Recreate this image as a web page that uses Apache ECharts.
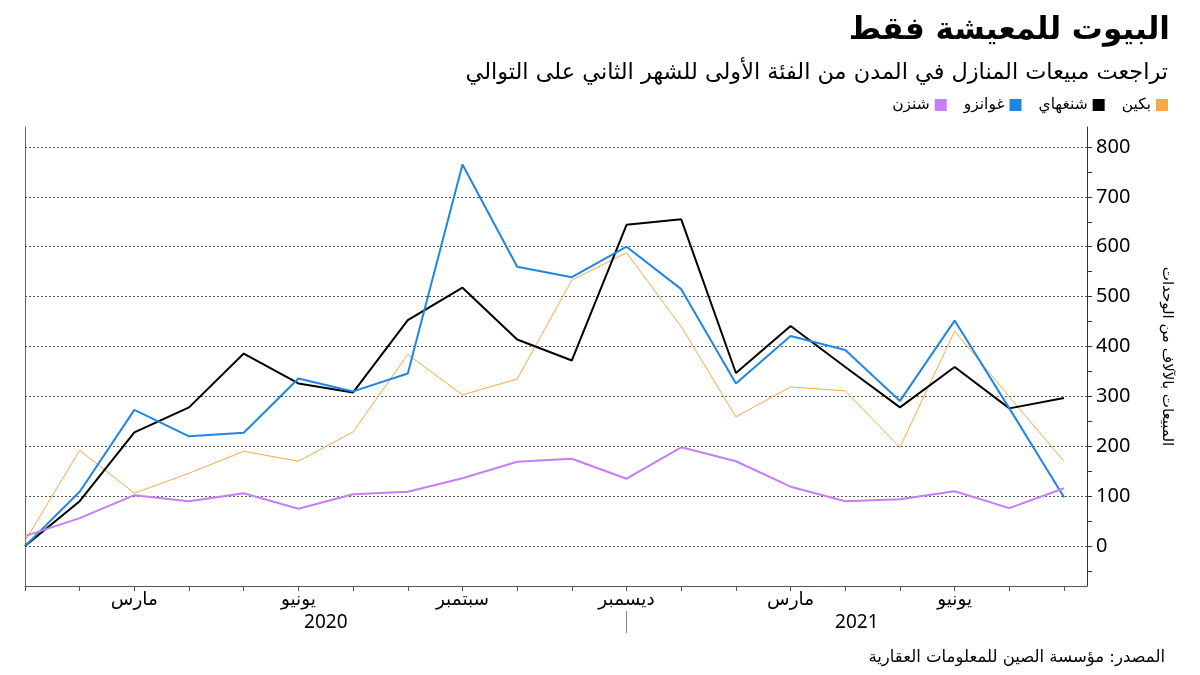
<!DOCTYPE html>
<html>
<head>
<meta charset="utf-8">
<script src="https://cdn.jsdelivr.net/npm/echarts@6/dist/echarts.min.js"></script>
<style>
html,body{margin:0;padding:0;background:#fff;}
#main{width:1200px;height:675px;}
</style>
</head>
<body>
<div id="main"></div>
<script>
// ---- data ----
const cities = ['بكين', 'شنغهاي', 'غوانزو', 'شنزن'];
const cityColors = ['#F7A945', '#000000', '#1F86E3', '#C77DF5'];
const cityWidths = [1, 2, 2, 2];
// monthly values Jan 2020 .. Aug 2021
const beijing   = [10, 192, 106, 146, 190, 170, 229, 384, 303, 335, 533, 588, 440, 259, 319, 311, 198, 431, 299, 170];
const shanghai  = [0, 90, 228, 278, 386, 326, 308, 453, 518, 414, 372, 644, 655, 347, 441, 359, 278, 359, 276, 297];
const guangzhou = [0, 109, 273, 220, 227, 336, 310, 346, 765, 560, 539, 600, 515, 326, 421, 393, 291, 452, 276, 98];
const shenzhen  = [20, 56, 102, 90, 106, 75, 104, 109, 136, 169, 175, 135, 198, 170, 119, 90, 94, 110, 76, 116];
const monthLabels = ['', '', 'مارس', '', '', 'يونيو', '', '', 'سبتمبر', '', '', 'ديسمبر',
                     '', '', 'مارس', '', '', 'يونيو', '', ''];
const years = ['2020', '2021'];
const yTicks = [0, 100, 200, 300, 400, 500, 600, 700, 800];
const yMinorTicks = [-50, 0, 50, 100, 150, 200, 250, 300, 350, 400, 450, 500, 550, 600, 650, 700, 750, 800];
const titleText = 'البيوت للمعيشة فقط';
const subtitleText = 'تراجعت مبيعات المنازل في المدن من الفئة الأولى للشهر الثاني على التوالي';
const sourceText = 'المصدر: مؤسسة الصين للمعلومات العقارية';
const yAxisName = 'المبيعات بالآلاف من الوحدات';

// ---- layout helpers ----
const xMin = 0, xMax = 19.42, yMin = -80, yMax = 840;
const yearBoundaries = [0, monthLabels.indexOf('ديسمبر'), xMax];
const yearCenters = [ (yearBoundaries[0] + yearBoundaries[1]) / 2, (yearBoundaries[1] + yearBoundaries[2]) / 2 ];
const FONT = "'DejaVu Sans', 'Noto Sans', sans-serif";
const NUMFONT = "'Noto Sans', 'DejaVu Sans', sans-serif";

const allSeries = [beijing, shanghai, guangzhou, shenzhen];
const monthIdx = beijing.map((_, i) => i);

const series = allSeries.map((vals, k) => {
  const s = {
    name: cities[k],
    type: 'line',
    xAxisIndex: 0,
    yAxisIndex: 0,
    data: vals.map((v, i) => [i, v]),
    symbol: 'none',
    lineStyle: { color: cityColors[k], width: cityWidths[k] },
    itemStyle: { color: cityColors[k] },
    z: 3 + k,
    animation: false
  };
  if (k === 0) {
    s.markLine = {
      silent: true,
      symbol: 'none',
      label: { show: false },
      lineStyle: { color: '#555', type: [2, 2], width: 1 },
      data: yTicks.map(v => ({ yAxis: v })),
      z: 1,
      animation: false
    };
  }
  return s;
});

const chart = echarts.init(document.getElementById('main'), null, { renderer: 'canvas' });
chart.setOption({
  backgroundColor: '#fff',
  animation: false,
  title: [
    {
      text: titleText,
      right: 25,
      top: 10,
      textStyle: { fontFamily: FONT, fontWeight: 'bold', fontSize: 31, color: '#000' }
    },
    {
      text: subtitleText,
      right: 27,
      top: 57,
      textStyle: { fontFamily: FONT, fontWeight: 'normal', fontSize: 22.4, color: '#000' }
    },
    {
      text: sourceText,
      right: 30,
      top: 644,
      textStyle: { fontFamily: FONT, fontWeight: 'normal', fontSize: 16.5, color: '#000' }
    }
  ],
  legend: {
    data: cities.slice().reverse(),
    right: 27,
    top: 92,
    align: 'right',
    itemWidth: 12,
    itemHeight: 12,
    itemGap: 17,
    icon: 'rect',
    textStyle: { fontFamily: FONT, fontSize: 15.5, color: '#000', padding: [0, 0, 0, 0] }
  },
  grid: { left: 25, right: 113, top: 127, bottom: 89, containLabel: false },
  xAxis: [
    {
      type: 'value',
      min: xMin,
      max: xMax,
      position: 'bottom',
      axisLine: { show: true, onZero: false, lineStyle: { color: '#555', width: 1 } },
      axisTick: { show: true, customValues: monthIdx, length: 5, lineStyle: { color: '#555' } },
      axisLabel: {
        customValues: monthIdx.filter(i => monthLabels[i] !== ''),
        formatter: v => monthLabels[Math.round(v)] || '',
        fontFamily: FONT, fontSize: 18.5, color: '#000', margin: 5
      },
      splitLine: { show: false }
    },
    {
      type: 'value',
      min: xMin,
      max: xMax,
      position: 'bottom',
      offset: 25,
      axisLine: { show: false, onZero: false },
      axisTick: { show: true, customValues: [yearBoundaries[1]], length: 22, lineStyle: { color: '#888' } },
      axisLabel: {
        customValues: yearCenters,
        formatter: v => {
          const i = yearCenters.findIndex(c => Math.abs(c - v) < 1e-6);
          return i >= 0 ? years[i] : '';
        },
        fontFamily: NUMFONT, fontSize: 19, color: '#000', margin: 2
      },
      splitLine: { show: false }
    }
  ],
  yAxis: [
    {
      type: 'value',
      min: yMin,
      max: yMax,
      position: 'right',
      name: yAxisName,
      nameLocation: 'middle',
      nameRotate: -90,
      nameGap: 72,
      nameTextStyle: { fontFamily: FONT, fontSize: 15, color: '#000' },
      axisLine: { show: true, onZero: false, lineStyle: { color: '#333', width: 1 } },
      axisTick: { show: true, inside: false, customValues: yMinorTicks, length: 5, lineStyle: { color: '#333' } },
      axisLabel: {
        customValues: yTicks,
        fontFamily: NUMFONT, fontSize: 20, color: '#000', margin: 9
      },
      splitLine: { show: false }
    },
    {
      type: 'value',
      min: yMin,
      max: yMax,
      position: 'left',
      axisLine: { show: true, onZero: false, lineStyle: { color: '#666', width: 1 } },
      axisTick: { show: false },
      axisLabel: { show: false },
      splitLine: { show: false }
    }
  ],
  series: series
});
</script>
</body>
</html>
